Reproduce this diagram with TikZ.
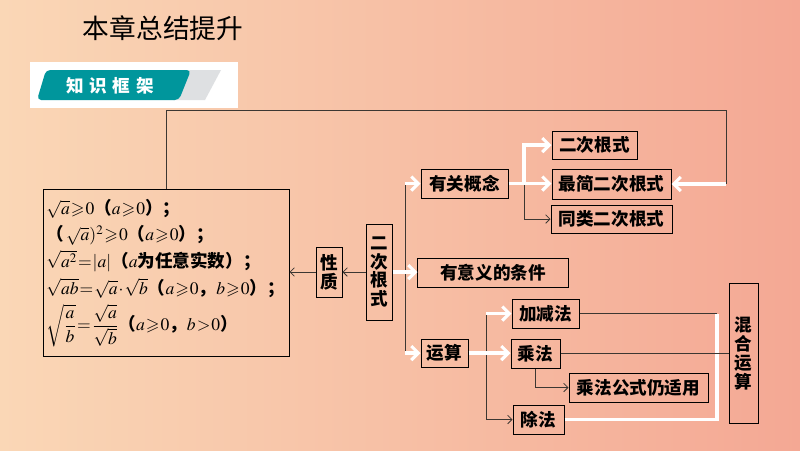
\documentclass[tikz,border=0pt]{standalone}
\usepackage{amsmath,amssymb}
\usepackage{mathptmx}
\usepackage[no-math]{fontspec}
\setmainfont{Noto Sans CJK SC}
\usepackage{tikz}
\usetikzlibrary{positioning}
\usetikzlibrary{calc}
\usetikzlibrary{arrows.meta}

\definecolor{bgleft}{RGB}{250,215,182}
\definecolor{bgright}{RGB}{244,168,148}
\definecolor{tealbar}{RGB}{0,150,156}
\definecolor{graybar}{RGB}{222,224,226}
\definecolor{linegray}{RGB}{60,55,50}

\newcommand{\tightmath}{\thickmuskip=1mu\relax\medmuskip=1mu\relax}

\tikzset{
  box/.style={draw=black, line width=0.7pt, inner sep=0pt,
    font=\fontsize{12.5}{13.5}\selectfont\bfseries},
  vbox/.style={box, align=center},
  dline/.style={draw=linegray, line width=0.6pt},
  darrow/.style={dline, -{Straight Barb[length=3pt,width=6pt]}},
  wline/.style={draw=white, line width=2.2pt},
  warrow/.style={wline, -{Straight Barb[length=5pt,width=10pt]}}
}

\begin{document}
\begin{tikzpicture}[x=0.025cm, y=-0.025cm]

    \shade[left color=bgleft, right color=bgright] (0,0) rectangle (800,450);
    \useasboundingbox (0,0) rectangle (800,450);

    % title and banner
    \node[font=\fontsize{19}{20}\selectfont] (title) at (163,28) {本章总结提升};

    \fill[white] (30,62) rectangle (238,108);
    \fill[graybar] (188,70) -- (221,70) -- (205,100) -- (173,100) -- cycle;
    \fill[tealbar, rounded corners=3pt] (46,70) -- (191,70) -- (179,100) -- (37,100) -- cycle;
    \node[text=white, font=\fontsize{12.5}{13}\selectfont\bfseries] (kj) at (110,86)
        {知\hspace{4pt}识\hspace{4pt}框\hspace{4pt}架};

    % left formula box
    \node[box, minimum width=6.125cm, minimum height=4.15cm, text width=6.0cm, align=left,
          font=\fontsize{12.5}{19}\selectfont\bfseries] (gs) at (166.5,273)
        {\tightmath$\sqrt{a}\geqslant 0$（$a\geqslant 0$）；\\
         （$\,\sqrt{a})^2\geqslant 0$（$a\geqslant 0$）；\\
         $\sqrt{a^2}=|a|$（$a$为任意实数）；\\
         $\sqrt{ab}=\sqrt{a}\cdot\sqrt{b}$（$a\geqslant 0$，$b\geqslant 0$）；\\[3pt]
         $\sqrt{\dfrac{a}{b}}=\dfrac{\sqrt{a}}{\sqrt{b}}$（$a\geqslant 0$，$b>0$）};

    % centre
    \node[vbox, minimum width=0.65cm, minimum height=2.4cm] (ecgsv) at (379,272) {二\\次\\根\\式};
    \node[vbox, minimum width=0.65cm, minimum height=1.25cm] (xz) at (329,272) {性\\质};

    % right side
    \node[box, minimum width=2.175cm, minimum height=0.725cm] (gnyq) at (464.5,183.5) {有关概念};
    \node[box, minimum width=2.125cm, minimum height=0.7cm] (ecgs) at (594.5,145) {二次根式};
    \node[box, minimum width=2.975cm, minimum height=0.75cm] (zjgs) at (611.5,184) {最简二次根式};
    \node[box, minimum width=3.025cm, minimum height=0.7cm] (tlgs) at (611.5,219) {同类二次根式};
    \node[box, minimum width=3.75cm, minimum height=0.725cm] (yyy) at (493,272.5) {有意义的条件};
    \node[box, minimum width=1.175cm, minimum height=0.7cm] (ys) at (444.5,353) {运算};
    \node[box, minimum width=1.675cm, minimum height=0.725cm] (jjf) at (545.5,313.5) {加减法};
    \node[box, minimum width=1.225cm, minimum height=0.725cm] (cf) at (535.5,353.5) {乘法};
    \node[box, minimum width=3.475cm, minimum height=0.725cm] (cfgs) at (638.5,387.5) {乘法公式仍适用};
    \node[box, minimum width=1.275cm, minimum height=0.725cm] (chuf) at (538.5,419.5) {除法};
    \node[vbox, minimum width=0.725cm, minimum height=3.5cm] (hhys) at (743.5,353) {混\\合\\运\\算};

    % feedback line over the top
    \coordinate (tr) at (726,110);
    \draw[dline] (gs.north) |- (tr) -- (tr |- zjgs.east);
    \draw[warrow] (tr |- zjgs.east) -- (zjgs.east);

    % to the left
    \draw[darrow] (ecgsv.west) -- (xz.east);
    \draw[darrow] (xz.west) -- (xz.west -| gs.east);

    % main branch
    \coordinate (b1) at (405,0);
    \draw[dline] (b1 |- gnyq.west) -- (b1 |- ys.west);
    \draw[warrow] (b1 |- gnyq.west) -- (gnyq.west);
    \draw[warrow] (b1 |- ys.west) -- (ys.west);
    \draw[warrow] (ecgsv.east) -- (ecgsv.east -| yyy.west);

    % concepts
    \coordinate (b2) at (524,0);
    \draw[darrow] (b2 |- gnyq.east) |- (tlgs.west);
    \draw[warrow] (b2 |- gnyq.east) |- (ecgs.west);
    \draw[warrow] (gnyq.east) -- (gnyq.east -| zjgs.west);

    % operations
    \coordinate (b3) at (486,0);
    \draw[dline] (b3 |- jjf.west) -- (b3 |- chuf.west);
    \draw[warrow] (b3 |- jjf.west) -- (jjf.west);
    \draw[darrow] (b3 |- chuf.west) -- (chuf.west);
    \draw[warrow] (ys.east) -- (ys.east -| cf.west);
    \draw[darrow] (cf.south) |- (cfgs.west);

    % mixed
    \coordinate (b4) at (717,0);
    \draw[wline] (chuf.east) -| (b4 |- jjf.east);
    \draw[dline] (jjf.east) -- (b4 |- jjf.east);
    \draw[dline] (cf.east) -- (cf.east -| hhys.west);

\end{tikzpicture}
\end{document}
